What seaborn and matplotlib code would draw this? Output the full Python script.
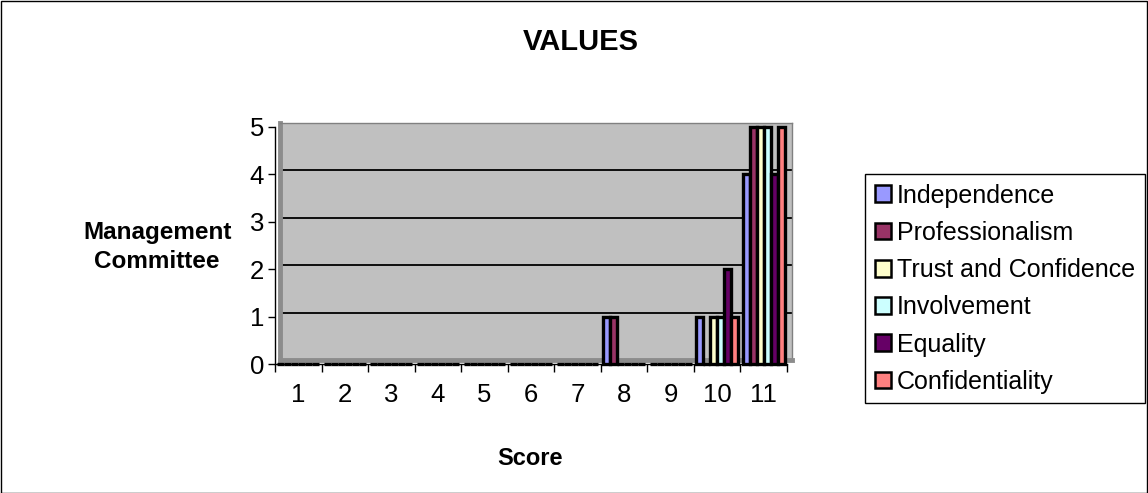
import matplotlib
matplotlib.use("Agg")
import matplotlib.pyplot as plt
from matplotlib.patches import Rectangle
import seaborn as sns
import pandas as pd

# Scores on the x axis and one count list per value
scores = ["1", "2", "3", "4", "5", "6", "7", "8", "9", "10", "11"]
independence = [0, 0, 0, 0, 0, 0, 0, 1, 0, 1, 4]
professionalism = [0, 0, 0, 0, 0, 0, 0, 1, 0, 0, 5]
trust_and_confidence = [0, 0, 0, 0, 0, 0, 0, 0, 0, 1, 5]
involvement = [0, 0, 0, 0, 0, 0, 0, 0, 0, 1, 5]
equality = [0, 0, 0, 0, 0, 0, 0, 0, 0, 2, 4]
confidentiality = [0, 0, 0, 0, 0, 0, 0, 0, 0, 1, 5]

series_names = ["Independence", "Professionalism", "Trust and Confidence",
                "Involvement", "Equality", "Confidentiality"]
series_values = [independence, professionalism, trust_and_confidence,
                 involvement, equality, confidentiality]
colors = ["#9999FF", "#993366", "#FFFFCC", "#CCFFFF", "#660066", "#FF8080"]

rows = []
for name, vals in zip(series_names, series_values):
    for s, v in zip(scores, vals):
        rows.append({"Score": s, "Value": name, "Count": v})
df = pd.DataFrame(rows)

sns.set_theme(style="white")
plt.rcParams["font.family"] = ["Liberation Sans", "DejaVu Sans"]
plt.rcParams["text.color"] = "black"
plt.rcParams["axes.labelcolor"] = "black"
plt.rcParams["xtick.color"] = "black"
plt.rcParams["ytick.color"] = "black"

W, H = 1148, 493
fig = plt.figure(figsize=(W / 100, H / 100), dpi=100)
fig.patch.set_facecolor("white")

def px_axes(x0, y_top, w, h):
    return [x0 / W, 1 - (y_top + h) / H, w / W, h / H]

# back wall of the plot area, slightly offset for depth
wall = fig.add_axes(px_axes(280, 123, 512, 237), zorder=0)
wall.set_facecolor("#C0C0C0")
wall.set_xlim(0, 1)
wall.set_ylim(0, 5)
wall.set_yticks([1, 2, 3, 4])
wall.set_xticks([])
wall.tick_params(left=False, labelleft=False)
wall.grid(axis="y", color="black", linewidth=1.3)
for side in ["top", "right"]:
    wall.spines[side].set_color("#808080")
    wall.spines[side].set_linewidth(1.0)
for side in ["left", "bottom"]:
    wall.spines[side].set_color("#8C8C8C")
    wall.spines[side].set_linewidth(3.5)

ax = fig.add_axes(px_axes(275, 127, 512, 237), zorder=1)
ax.set_facecolor("none")

sns.barplot(data=df, x="Score", y="Count", hue="Value", order=scores,
            hue_order=series_names, palette=colors, width=0.9,
            edgecolor="black", linewidth=2.4, saturation=1, ax=ax)
for bar in ax.patches:
    bar.set_clip_on(False)

ax.set_xlim(-0.5, len(scores) - 0.5)
ax.set_ylim(0, 5)
ax.set_yticks([0, 1, 2, 3, 4, 5])
ax.set_yticklabels(["0", "1", "2", "3", "4", "5"], fontsize=18.5)
ax.set_xticks(range(len(scores)))
ax.set_xticklabels(scores, fontsize=18.5)
ax.set_xticks([i - 0.5 for i in range(len(scores) + 1)], minor=True)
ax.tick_params(axis="x", which="major", length=0, pad=14)
ax.tick_params(axis="x", which="minor", length=6, width=1, color="black",
               direction="out", bottom=True)
ax.tick_params(axis="y", length=5, width=1, color="black", direction="out",
               left=True, pad=3)
for side in ["top", "right"]:
    ax.spines[side].set_visible(False)
for side in ["left", "bottom"]:
    ax.spines[side].set_color("black")
    ax.spines[side].set_linewidth(1.0)

ax.set_xlabel("Score", fontsize=17, fontweight="bold")
ax.xaxis.set_label_coords(0.498, -0.35)
ax.set_ylabel("Management\nCommittee", fontsize=17.5, fontweight="bold",
              rotation=0, ha="center", va="center", linespacing=1.3)
ax.yaxis.set_label_coords(-0.230, 0.494)

fig.text(581 / W, 1 - 42 / H, "VALUES", fontsize=21, fontweight="bold",
         ha="center", va="center")

handles, labels = ax.get_legend_handles_labels()
if ax.legend_ is not None:
    ax.legend_.remove()
leg = fig.legend(handles, labels, loc="upper left",
                 bbox_to_anchor=(865 / W, 1 - 174 / H),
                 bbox_transform=fig.transFigure, fontsize=18, frameon=True,
                 fancybox=False, framealpha=1, edgecolor="black",
                 handlelength=0.65, handleheight=0.65, handletextpad=0.25,
                 labelspacing=0.53, borderpad=0.38, borderaxespad=0)
leg.get_frame().set_linewidth(1.0)
for h in leg.legend_handles:
    h.set_edgecolor("black")
    h.set_linewidth(1.8)

# outer chart border
fig.patches.append(Rectangle((0.5 / W, 0.5 / H), 1 - 1.5 / W, 1 - 1.5 / H,
                             transform=fig.transFigure, fill=False,
                             edgecolor="black", linewidth=1.0))

fig.savefig("out.png", dpi=100)
